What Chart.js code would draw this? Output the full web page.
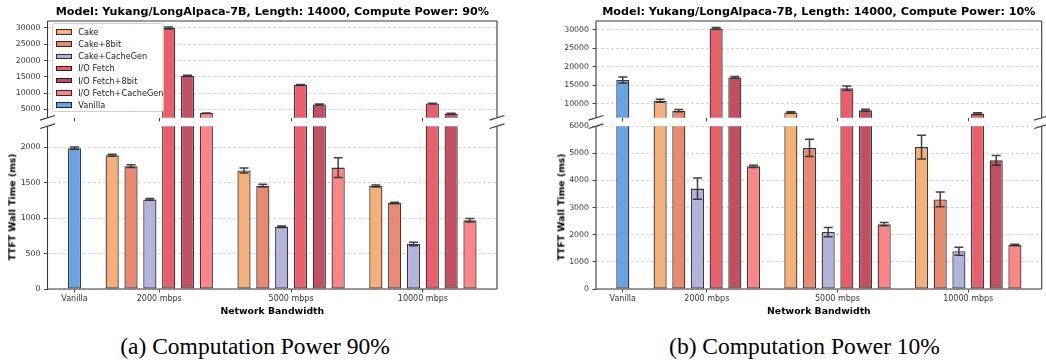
<!DOCTYPE html>
<html>
<head>
<meta charset="utf-8">
<script src="https://cdn.jsdelivr.net/npm/chart.js@4/dist/chart.umd.min.js"></script>
<style>
  html, body { margin: 0; padding: 0; background: #fff; }
  #fig { position: relative; width: 1046px; height: 360px; overflow: hidden; font-family: 'DejaVu Sans', sans-serif; }
  #fig canvas { position: absolute; }
  .txt { position: absolute; white-space: nowrap; line-height: 1; transform: translate(-50%, -50%); color: #000; }
  .title { font-size: 11.2px; font-weight: bold; }
  .axlab { font-size: 9.3px; font-weight: bold; }
  .ylab { transform: translate(-50%, -50%) rotate(-90deg); }
  .caption { font-family: 'Liberation Serif', 'Times New Roman', serif; font-size: 23.5px; }
  #legend { position: absolute; left: 51.7px; top: 22.7px; width: 112.5px; height: 89px; box-sizing: border-box;
            border: 1px solid #cfcfcf; border-radius: 3px; background: rgba(255,255,255,0.85); }
  #legend .item { position: absolute; left: 3px; height: 10px; display: flex; align-items: center; font-size: 8.2px; color: #222; white-space: nowrap; }
  #legend .sw { width: 16px; height: 5.5px; box-sizing: border-box; border: 1px solid rgba(0,0,0,0.75); margin-right: 6.5px; }
</style>
</head>
<body>
<div id="fig">
  <canvas id="cTL" width="520" height="126" style="left:0px;top:0px;width:520px;height:126px"></canvas>
  <canvas id="cBL" width="520" height="192" style="left:0px;top:118px;width:520px;height:192px"></canvas>
  <canvas id="cTR" width="526" height="126" style="left:520px;top:0px;width:526px;height:126px"></canvas>
  <canvas id="cBR" width="526" height="192" style="left:520px;top:118px;width:526px;height:192px"></canvas>

  <div class="txt title" style="left:272.3px;top:11.5px">Model: Yukang/LongAlpaca-7B, Length: 14000, Compute Power: 90%</div>
  <div class="txt title" style="left:818.9px;top:11.5px">Model: Yukang/LongAlpaca-7B, Length: 14000, Compute Power: 10%</div>
  <div class="txt axlab ylab" style="left:11.7px;top:207px">TTFT Wall Time (ms)</div>
  <div class="txt axlab ylab" style="left:560.7px;top:207px">TTFT Wall Time (ms)</div>
  <div class="txt axlab" style="left:272.3px;top:310.7px">Network Bandwidth</div>
  <div class="txt axlab" style="left:818.9px;top:310.7px">Network Bandwidth</div>
  <div class="txt caption" style="left:255px;top:347px">(a) Computation Power 90%</div>
  <div class="txt caption" style="left:804.5px;top:347px">(b) Computation Power 10%</div>
  <div id="legend"></div>
</div>

<script>
// ---- categories and tick labels ----
const xTickLabels = ['Vanilla', '2000 mbps', '5000 mbps', '10000 mbps'];
const methods = ['Cake', 'Cake+8bit', 'Cake+CacheGen', 'I/O Fetch', 'I/O Fetch+8bit', 'I/O Fetch+CacheGen'];
const vanillaLabel = 'Vanilla';

// ---- TTFT (ms), compute power 90%: one value per bandwidth (2000, 5000, 10000 mbps) ----
const vanilla90 = 1990,            vanillaErr90 = 15;
const cake90 = [1890, 1675, 1455],           cakeErr90 = [15, 35, 15];
const cake8bit90 = [1735, 1460, 1215],       cake8bitErr90 = [20, 20, 10];
const cakeCacheGen90 = [1265, 880, 635],     cakeCacheGenErr90 = [12, 10, 25];
const ioFetch90 = [30000, 12500, 6800],      ioFetchErr90 = [300, 150, 100];
const ioFetch8bit90 = [15300, 6500, 3700],   ioFetch8bitErr90 = [200, 150, 100];
const ioFetchCacheGen90 = [3850, 1715, 970], ioFetchCacheGenErr90 = [50, 140, 25];

// ---- TTFT (ms), compute power 10% ----
const vanilla10 = 16400,           vanillaErr10 = 800;
const cake10 = [10800, 7600, 5230],          cakeErr10 = [400, 200, 440];
const cake8bit10 = [8100, 5200, 3300],       cake8bitErr10 = [300, 320, 270];
const cakeCacheGen10 = [3700, 2100, 1390],   cakeCacheGenErr10 = [390, 170, 150];
const ioFetch10 = [30400, 14200, 7300],      ioFetchErr10 = [250, 600, 250];
const ioFetch8bit10 = [17100, 8200, 4740],   ioFetch8bitErr10 = [250, 250, 180];
const ioFetchCacheGen10 = [4520, 2390, 1620], ioFetchCacheGenErr10 = [40, 60, 30];

// ---- y tick values for each broken-axis half ----
const ticks90Top = [5000, 10000, 15000, 20000, 25000, 30000];
const ticks90Bottom = [0, 500, 1000, 1500, 2000];
const ticks10Top = [10000, 15000, 20000, 25000, 30000];
const ticks10Bottom = [0, 1000, 2000, 3000, 4000, 5000, 6000];

// ---- styling ----
const methodColors = ['#f5b07a', '#e9896f', '#b3b3dc', '#e85f6b', '#c34f63', '#fe8585'];
const vanillaColor = '#68a3e5';
const edgeColor = 'rgba(0,0,0,0.78)';

Chart.defaults.font.family = "'DejaVu Sans', sans-serif";

// bar slot layout: Vanilla alone, then one group of six bars per bandwidth
const groupStride = methods.length + 1;
const slotOf = (g, m) => 2 + groupStride * g + m;
const tickSlots = [0].concat([0, 1, 2].map(g => slotOf(g, 0) + (methods.length - 1) / 2));
const slotLo = -0.35, slotHi = slotOf(2, methods.length - 1) + 0.35;
const xMargin = 0.05 * (slotHi - slotLo);

const panel90 = {
  values: [cake90, cake8bit90, cakeCacheGen90, ioFetch90, ioFetch8bit90, ioFetchCacheGen90],
  errors: [cakeErr90, cake8bitErr90, cakeCacheGenErr90, ioFetchErr90, ioFetch8bitErr90, ioFetchCacheGenErr90],
  vanilla: vanilla90, vanillaErr: vanillaErr90
};
const panel10 = {
  values: [cake10, cake8bit10, cakeCacheGen10, ioFetch10, ioFetch8bit10, ioFetchCacheGen10],
  errors: [cakeErr10, cake8bitErr10, cakeCacheGenErr10, ioFetchErr10, ioFetch8bitErr10, ioFetchCacheGenErr10],
  vanilla: vanilla10, vanillaErr: vanillaErr10
};

// error bars with caps, clipped to the plot area
const errorBarPlugin = {
  id: 'errorBars',
  afterDatasetsDraw(chart) {
    const { ctx, chartArea: a } = chart;
    const y = chart.scales.y;
    ctx.save();
    ctx.beginPath();
    ctx.rect(a.left, a.top, a.right - a.left, a.bottom - a.top);
    ctx.clip();
    ctx.strokeStyle = 'rgba(45,45,45,0.9)';
    ctx.lineWidth = 1.5;
    chart.data.datasets.forEach((ds, i) => {
      const meta = chart.getDatasetMeta(i);
      meta.data.forEach((bar, j) => {
        const v = ds.data[j].y, e = ds.errors[j];
        const yHi = y.getPixelForValue(v + e), yLo = y.getPixelForValue(v - e);
        ctx.beginPath();
        ctx.moveTo(bar.x, yHi); ctx.lineTo(bar.x, yLo);
        ctx.moveTo(bar.x - 4.5, yHi); ctx.lineTo(bar.x + 4.5, yHi);
        ctx.moveTo(bar.x - 4.5, yLo); ctx.lineTo(bar.x + 4.5, yLo);
        ctx.stroke();
      });
    });
    ctx.restore();
  }
};

// axes frame (open on the broken side) and the diagonal break marks
const framePlugin = {
  id: 'frame',
  afterDraw(chart, args, opts) {
    const { ctx, chartArea: a } = chart;
    ctx.save();
    ctx.strokeStyle = '#3a3a3a';
    ctx.lineWidth = 1.1;
    ctx.beginPath();
    ctx.moveTo(a.left, a.top); ctx.lineTo(a.left, a.bottom);
    ctx.moveTo(a.right, a.top); ctx.lineTo(a.right, a.bottom);
    if (opts.part === 'top') { ctx.moveTo(a.left, a.top); ctx.lineTo(a.right, a.top); }
    else { ctx.moveTo(a.left, a.bottom); ctx.lineTo(a.right, a.bottom); }
    ctx.stroke();
    const yb = opts.part === 'top' ? a.bottom : a.top;
    ctx.beginPath();
    [a.left, a.right].forEach(x => { ctx.moveTo(x - 7.5, yb + 2.3); ctx.lineTo(x + 7.5, yb - 2.3); });
    ctx.stroke();
    ctx.restore();
  }
};

function makeChart(id, panel, part, yMin, yMax, yTicks, geom) {
  const datasets = methods.map((name, m) => ({
    label: name,
    data: panel.values[m].map((v, g) => ({ x: slotOf(g, m), y: v })),
    errors: panel.errors[m],
    backgroundColor: methodColors[m]
  }));
  datasets.push({
    label: vanillaLabel,
    data: [{ x: 0, y: panel.vanilla }],
    errors: [panel.vanillaErr],
    backgroundColor: vanillaColor
  });
  datasets.forEach(ds => Object.assign(ds, {
    borderColor: edgeColor, borderWidth: 1.3, borderSkipped: false,
    grouped: false, barPercentage: 0.7, categoryPercentage: 1, clip: 0
  }));

  return new Chart(document.getElementById(id), {
    type: 'bar',
    data: { datasets },
    options: {
      responsive: false,
      animation: false,
      devicePixelRatio: 1,
      layout: { padding: { left: 0, right: geom.padRight, top: geom.padTop, bottom: 0 } },
      plugins: { legend: { display: false }, tooltip: { enabled: false }, title: { display: false }, frame: { part } },
      scales: {
        x: {
          type: 'linear', min: slotLo - xMargin, max: slotHi + xMargin, offset: false,
          afterBuildTicks: s => { s.ticks = tickSlots.map(v => ({ value: v })); },
          afterFit: s => { s.height = geom.xAxisHeight; },
          ticks: { display: part === 'bottom', autoSkip: false, maxRotation: 0, minRotation: 0,
                   font: { size: 8 }, color: '#333', padding: 1.5,
                   callback: (v, i) => xTickLabels[i] },
          grid: { display: true, drawOnChartArea: false, drawTicks: true, tickLength: 3.5,
                  tickColor: '#444', offset: false },
          border: { display: false }
        },
        y: {
          min: yMin, max: yMax,
          afterBuildTicks: s => { s.ticks = yTicks.map(v => ({ value: v })); },
          afterFit: s => { s.width = geom.yAxisWidth; },
          ticks: { font: { size: 7.8 }, color: '#333', padding: 3.5, callback: v => String(v) },
          grid: { color: '#cccccc', lineWidth: 0.8, borderDash: [3, 2], drawTicks: true, tickLength: 3.5,
                  tickColor: '#444', tickBorderDash: [], tickWidth: 1 },
          border: { display: false, dash: [3, 2] }
        }
      }
    },
    plugins: [errorBarPlugin, framePlugin]
  });
}

const geomTL = { yAxisWidth: 47.5, padRight: 23, padTop: 21, xAxisHeight: 7.5 };
const geomBL = { yAxisWidth: 47.5, padRight: 23, padTop: 7.5, xAxisHeight: 21 };
const geomTR = { yAxisWidth: 76, padRight: 4.3, padTop: 21, xAxisHeight: 7.5 };
const geomBR = { yAxisWidth: 76, padRight: 4.3, padTop: 7.5, xAxisHeight: 21 };

makeChart('cTL', panel90, 'top', 2400, 32150, ticks90Top, geomTL);
makeChart('cBL', panel90, 'bottom', 0, 2300, ticks90Bottom, geomBL);
makeChart('cTR', panel10, 'top', 6150, 32400, ticks10Top, geomTR);
makeChart('cBR', panel10, 'bottom', 0, 6000, ticks10Bottom, geomBR);

// legend for the 90% panel
const legend = document.getElementById('legend');
methods.concat([vanillaLabel]).forEach((name, i) => {
  const item = document.createElement('div');
  item.className = 'item';
  item.style.top = (8.3 - 5 + i * 12.17) + 'px';
  const sw = document.createElement('span');
  sw.className = 'sw';
  sw.style.background = i < methods.length ? methodColors[i] : vanillaColor;
  const lab = document.createElement('span');
  lab.textContent = name;
  item.appendChild(sw);
  item.appendChild(lab);
  legend.appendChild(item);
});
</script>
</body>
</html>
